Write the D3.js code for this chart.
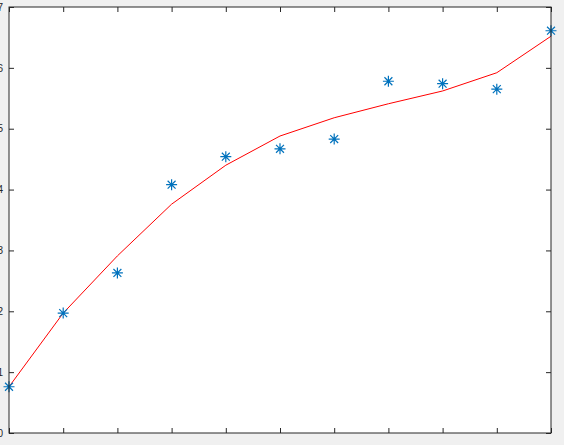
<!DOCTYPE html>
<html>
<head>
<meta charset="utf-8">
<script src="https://cdn.jsdelivr.net/npm/d3@7"></script>
<style>
  html, body { margin: 0; padding: 0; background: #f0f0f0; overflow: hidden; }
  svg { display: block; }
</style>
</head>
<body>
<div id="chart"></div>
<script>
const width = 564;
const height = 445;

// data
const xValues = [0, 1, 2, 3, 4, 5, 6, 7, 8, 9, 10];
const observed = [0.76, 1.97, 2.63, 4.08, 4.54, 4.67, 4.83, 5.78, 5.74, 5.65, 6.61];
const fitted = [0.76, 1.97, 2.91, 3.76, 4.40, 4.88, 5.18, 5.41, 5.62, 5.92, 6.52];
const yTicks = [0, 1, 2, 3, 4, 5, 6, 7];

const margin = {top: 7, right: 13, bottom: 12, left: 9};
const axisColor = "#262626";

const x = d3.scaleLinear()
    .domain([0, 10])
    .range([margin.left, width - margin.right]);

const y = d3.scaleLinear()
    .domain([0, 7])
    .range([height - margin.bottom, margin.top]);

const svg = d3.select('#chart')
    .append('svg')
    .attr('width', width)
    .attr('height', height);

// white plot area
svg.append('rect')
    .attr('x', x(0))
    .attr('y', y(7))
    .attr('width', x(10) - x(0))
    .attr('height', y(0) - y(7))
    .attr('fill', '#fff');

// fitted curve
const line = d3.line()
    .x((d, i) => x(xValues[i]))
    .y(d => y(d));

svg.append('path')
    .datum(fitted)
    .attr('d', line)
    .attr('fill', 'none')
    .attr('stroke', '#ff0000')
    .attr('stroke-width', 1);

// star markers
const star = (r) => {
    const d = r * 0.72;
    return `M${-r},0H${r}M0,${-r}V${r}M${-d},${-d}L${d},${d}M${-d},${d}L${d},${-d}`;
};

svg.append('g')
    .selectAll('path')
    .data(observed)
    .join('path')
    .attr('transform', (d, i) => `translate(${x(xValues[i])},${y(d)})`)
    .attr('d', star(5.5))
    .attr('fill', 'none')
    .attr('stroke', '#0072bd')
    .attr('stroke-width', 1.2);

// axes
const styleAxis = g => {
    g.select('.domain').remove();
    g.selectAll('line').attr('stroke', axisColor);
    g.selectAll('text')
        .attr('fill', axisColor)
        .style('font-family', 'Helvetica, Arial, "Liberation Sans", sans-serif')
        .style('font-size', '10px');
};

svg.append('g')
    .attr('transform', `translate(0,${y(0)})`)
    .call(d3.axisBottom(x).tickValues(xValues).tickSize(-5).tickFormat(''))
    .call(styleAxis);

svg.append('g')
    .attr('transform', `translate(0,${y(7)})`)
    .call(d3.axisTop(x).tickValues(xValues).tickSize(-5).tickFormat(''))
    .call(styleAxis);

svg.append('g')
    .attr('transform', `translate(${x(0)},0)`)
    .call(d3.axisLeft(y).tickValues(yTicks).tickSize(-5).tickPadding(6).tickFormat(d3.format('d')))
    .call(styleAxis);

svg.append('g')
    .attr('transform', `translate(${x(10)},0)`)
    .call(d3.axisRight(y).tickValues(yTicks).tickSize(-5).tickFormat(''))
    .call(styleAxis);

// box
svg.append('rect')
    .attr('x', x(0))
    .attr('y', y(7))
    .attr('width', x(10) - x(0))
    .attr('height', y(0) - y(7))
    .attr('fill', 'none')
    .attr('stroke', axisColor)
    .attr('stroke-width', 1);
</script>
</body>
</html>
